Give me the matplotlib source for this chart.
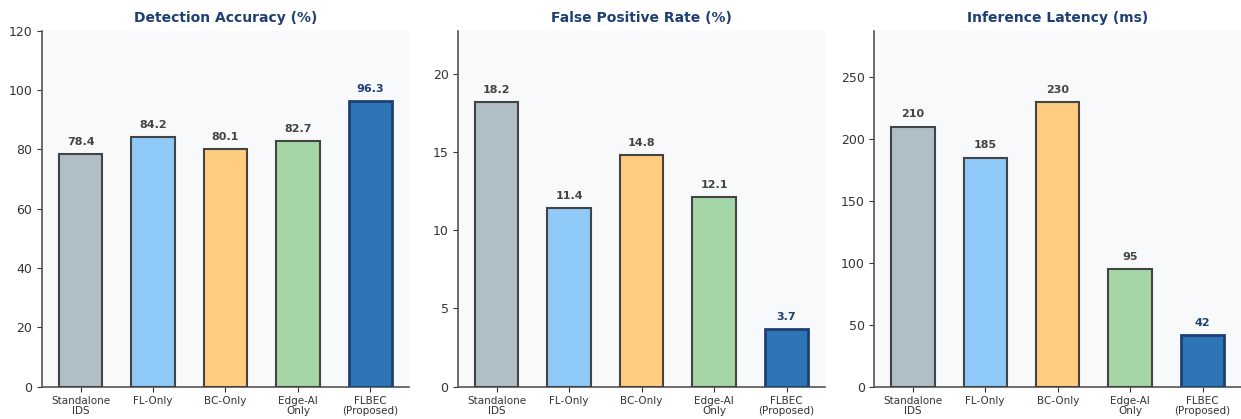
import matplotlib
matplotlib.use("Agg")
import matplotlib.pyplot as plt
import numpy as np

categories = ["Standalone\nIDS", "FL-Only", "BC-Only", "Edge-AI\nOnly", "FLBEC\n(Proposed)"]
accuracy = [78.4, 84.2, 80.1, 82.7, 96.3]
false_positive = [18.2, 11.4, 14.8, 12.1, 3.7]
latency = [210, 185, 230, 95, 42]

titles = ["Detection Accuracy (%)", "False Positive Rate (%)", "Inference Latency (ms)"]
label_fmt = ["{:.1f}", "{:.1f}", "{:.0f}"]
colors = ["#b0bec5", "#90caf9", "#ffcc80", "#a5d6a7", "#2e75b6"]
navy = "#1f3f73"
dark = "#444444"

fig, axes = plt.subplots(1, 3, figsize=(12.41, 4.19), dpi=100)
fig.subplots_adjust(left=0.034, right=1.0, top=0.927, bottom=0.077, wspace=0.135)

for i, (ax, vals) in enumerate(zip(axes, [accuracy, false_positive, latency])):
    x = np.arange(len(categories))
    edge = [dark] * 4 + [navy]
    lws = [1.5] * 4 + [2.0]
    ax.bar(x, vals, width=0.6, color=colors, edgecolor=edge, linewidth=lws, zorder=3)
    ax.set_facecolor("#f8f9fb")
    ax.set_title(titles[i], fontsize=10, fontweight="bold", color=navy, pad=6)
    ax.set_xticks(x)
    ax.set_xticklabels(categories, fontsize=7.5, linespacing=1.0)
    ax.tick_params(axis="y", labelsize=9, colors="#333333")
    ax.tick_params(axis="x", colors="#333333")
    for s in ["top", "right"]:
        ax.spines[s].set_visible(False)
    for s in ["left", "bottom"]:
        ax.spines[s].set_color("#555555")
        ax.spines[s].set_linewidth(1.2)
    if i == 0:
        ax.set_ylim(0, 120)
    else:
        ax.set_ylim(0, max(vals) * 1.25)
    top = ax.get_ylim()[1]
    for j, v in enumerate(vals):
        ax.text(j, v + top * 0.02, label_fmt[i].format(v), ha="center", va="bottom",
                fontsize=8, fontweight="bold", color=navy if j == 4 else dark)

fig.savefig("out.png", dpi=100)
